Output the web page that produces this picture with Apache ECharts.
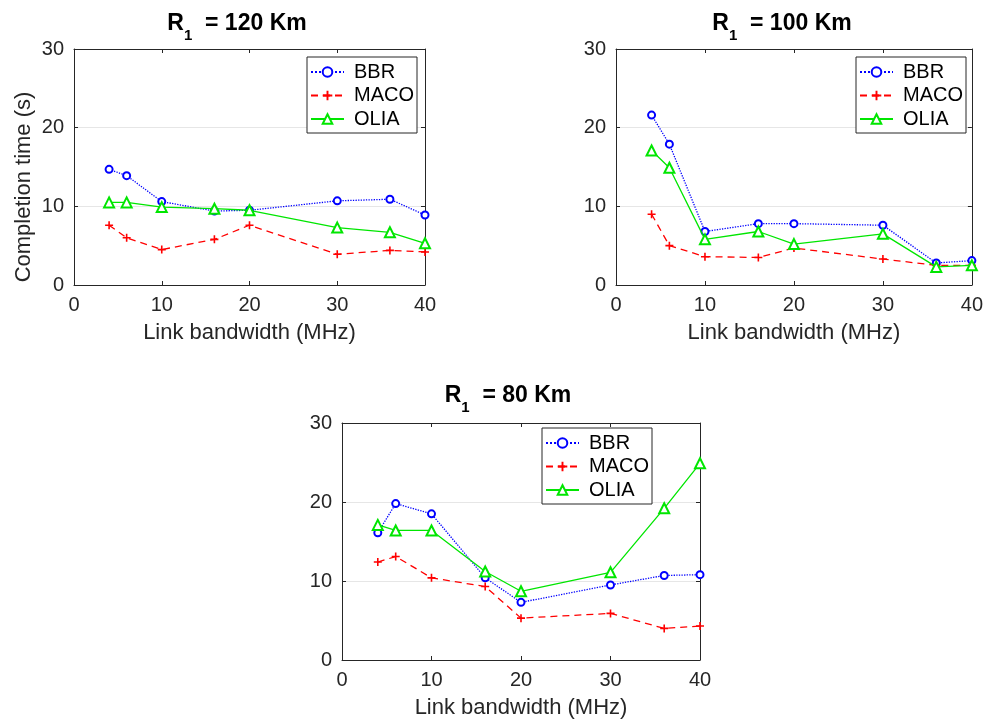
<!DOCTYPE html>
<html>
<head>
<meta charset="utf-8">
<script src="https://cdn.jsdelivr.net/npm/echarts@6/dist/echarts.min.js"></script>
<style>
  html, body { margin: 0; padding: 0; background: #fff; }
  #chart { width: 986px; height: 725px; }
</style>
</head>
<body>
<div id="chart"></div>
<script>
const bandwidth = [4, 6, 10, 16, 20, 30, 36, 40];

const bbr120 = [14.7, 13.9, 10.6, 9.4, 9.5, 10.7, 10.9, 8.9];
const maco120 = [7.6, 6.0, 4.5, 5.8, 7.6, 3.9, 4.4, 4.2];
const olia120 = [10.5, 10.5, 9.9, 9.7, 9.5, 7.3, 6.7, 5.3];

const bbr100 = [21.6, 17.9, 6.8, 7.8, 7.8, 7.6, 2.8, 3.1];
const maco100 = [9.0, 5.0, 3.6, 3.5, 4.7, 3.3, 2.5, 2.5];
const olia100 = [17.1, 14.9, 5.8, 6.8, 5.2, 6.5, 2.3, 2.5];

const bbr80 = [16.1, 19.8, 18.5, 10.4, 7.3, 9.5, 10.7, 10.8];
const maco80 = [12.4, 13.1, 10.4, 9.3, 5.3, 5.9, 4.0, 4.3];
const olia80 = [17.1, 16.4, 16.4, 11.2, 8.7, 11.1, 19.2, 24.9];

const seriesNames = ['BBR', 'MACO', 'OLIA'];
const xTicks = [0, 10, 20, 30, 40];
const yTicks = [0, 10, 20, 30];

const txt = '#262626'
const font = 'Liberation Sans'
const plusPath = 'path://M4,0h2v4h4v2h-4v4h-2v-4h-4v-2h4z'

const chart = echarts.init(document.getElementById('chart'))

const grids = [
    { left: 74, top: 49, width: 351, height: 236 },
    { left: 616, top: 49, width: 357, height: 236 },
    { left: 342, top: 423, width: 358, height: 237 }
]
const panels = [
    { title: '120', center: 237, ty: 12, data: [bbr120, maco120, olia120], legend: [307, 57] },
    { title: '100', center: 782, ty: 12, data: [bbr100, maco100, olia100], legend: [856, 57] },
    { title: '80', center: 508, ty: 384, data: [bbr80, maco80, olia80], legend: [542, 428] }
]

const xAxis = []
const yAxis = []
const series = []
const legend = []
const graphic = []

// plain axis with inward ticks, used for all four sides of each box
function boxAxis(extra) {
    return Object.assign({
        type: 'value', min: 0, interval: 10,
        axisLine: { show: true, onZero: false, lineStyle: { color: txt, width: 1 } },
        axisTick: { show: true, inside: true, length: 4, lineStyle: { color: txt } },
        axisLabel: { show: false },
        splitLine: { show: false }
    }, extra)
}

panels.forEach(function (p, i) {
    xAxis.push(boxAxis({
        gridIndex: i, position: 'bottom', max: xTicks[xTicks.length - 1],
        name: 'Link bandwidth (MHz)', nameLocation: 'middle', nameGap: 37,
        nameTextStyle: { color: txt, fontSize: 22, fontFamily: font },
        axisLabel: { show: true, color: txt, fontSize: 20, fontFamily: font, margin: 10 }
    }))
    xAxis.push(boxAxis({ gridIndex: i, position: 'top', max: 40 }))
    yAxis.push(boxAxis({
        gridIndex: i, position: 'left', max: yTicks[yTicks.length - 1],
        axisLabel: { show: true, color: txt, fontSize: 20, fontFamily: font, margin: 10 },
        splitLine: { show: true, lineStyle: { color: '#e6e6e6', width: 1 } }
    }))
    yAxis.push(boxAxis({ gridIndex: i, position: 'right', max: 30 }))

    const styles = [
        { color: '#0000ff', type: 'dotted', symbol: 'emptyCircle', size: 7, bw: 1.4 },
        { color: '#ff0000', type: [7, 5], symbol: plusPath, size: 8, bw: 0 },
        { color: '#00e600', type: 'solid', symbol: 'emptyTriangle', size: 10, bw: 1.3 }
    ]
    p.data.forEach(function (vals, k) {
        const s = styles[k]
        series.push({
            name: seriesNames[k], type: 'line',
            xAxisIndex: i * 2, yAxisIndex: i * 2,
            data: bandwidth.map(function (x, j) { return [x, vals[j]] }),
            symbol: s.symbol, symbolSize: s.size, showAllSymbol: true,
            lineStyle: { color: s.color, width: 1.3, type: s.type },
            itemStyle: { color: s.color, borderColor: s.color, borderWidth: s.bw },
            z: 2 + k
        })
    })

    legend.push({
        data: seriesNames, orient: 'vertical',
        left: p.legend[0], top: p.legend[1],
        backgroundColor: '#fff', borderColor: txt, borderWidth: 1, borderRadius: 0,
        padding: [5, 3, 4, 3], itemGap: 3.5, itemWidth: 33, itemHeight: 12,
        textStyle: { color: '#000', fontSize: 20, fontFamily: font, padding: [0, 0, 0, 5] }
    })

    graphic.push({
        type: 'text', x: p.center, y: p.ty,
        style: {
            text: '{r|R}{s|1}{r|  = ' + p.title + ' Km}',
            align: 'center', verticalAlign: 'top',
            fill: '#000',
            rich: {
                r: { fontSize: 23, fontWeight: 'bold', fontFamily: font, lineHeight: 22, verticalAlign: 'top', fill: '#000' },
                s: { fontSize: 15, fontWeight: 'bold', fontFamily: font, lineHeight: 31, verticalAlign: 'bottom', fill: '#000' }
            }
        }
    })
})

// y label of the first panel
graphic.push({
    type: 'text', x: 24, y: 187, rotation: Math.PI / 2,
    style: {
        text: 'Completion time (s)', fill: txt,
        font: '22px "Liberation Sans"', align: 'center', verticalAlign: 'middle'
    }
})

const option = {
    animation: false,
    backgroundColor: '#fff',
    grid: grids,
    xAxis: xAxis,
    yAxis: yAxis,
    legend: legend,
    series: series,
    graphic: graphic
}
chart.setOption(option)
</script>
</body>
</html>
